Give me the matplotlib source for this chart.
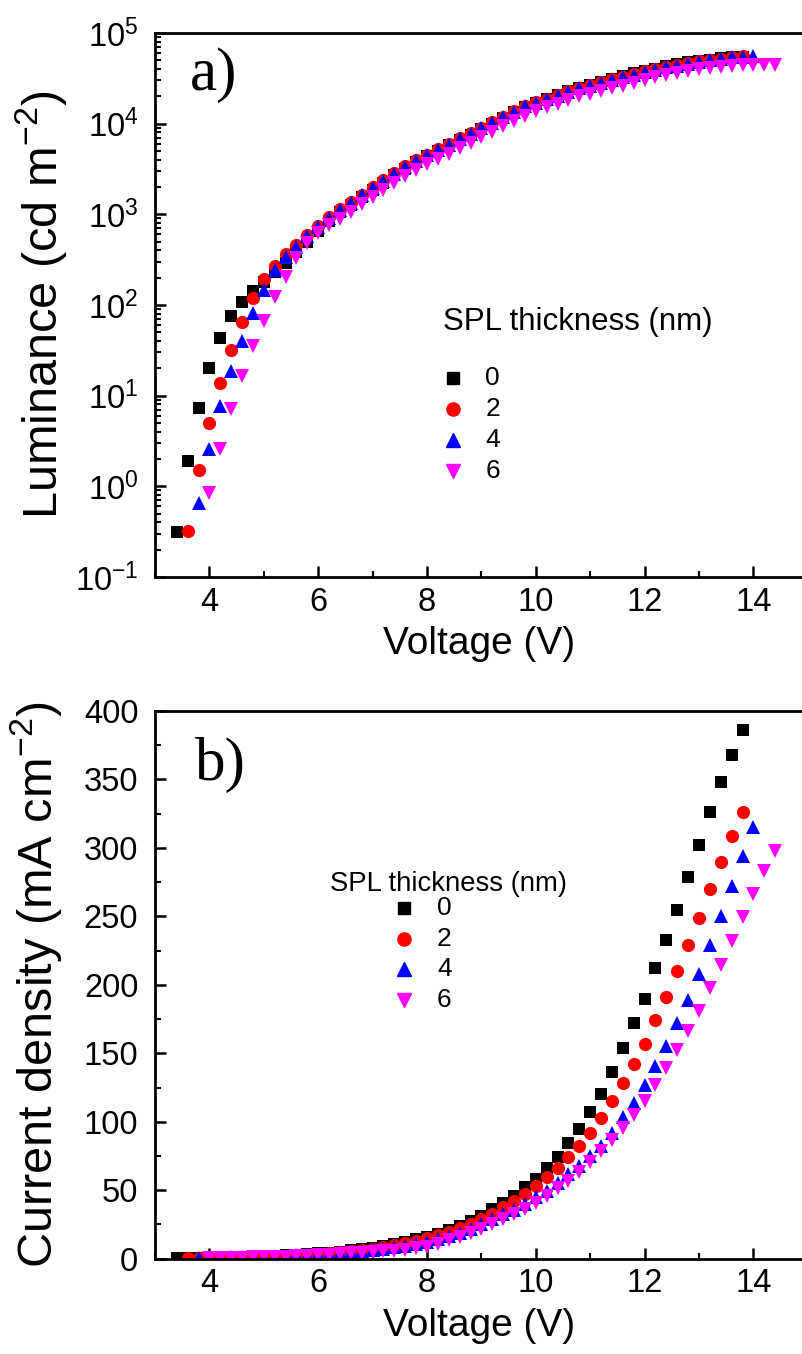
import numpy as np
import matplotlib
matplotlib.use("Agg")
import matplotlib.pyplot as plt
from matplotlib.ticker import MultipleLocator, LogLocator, NullFormatter

plt.rcParams['font.family'] = ['Liberation Sans', 'DejaVu Sans']
plt.rcParams['mathtext.default'] = 'regular'

# SPL thickness series (nm)
labels = ['0', '2', '4', '6']
colors = ['black', '#ff0000', '#0000ff', '#ff00ff']
markers = ['s', 'o', '^', 'v']
msizes = [8.5, 9.5, 10, 10]

# voltage sweep: first point of each series, 0.2 V step
v_start = [3.4, 3.6, 3.8, 4.0]
v_step = 0.2

# a) luminance (cd m-2)
lum_0 = [0.31, 1.9, 7.3, 20, 43, 76, 107, 141, 180, 230, 290, 380, 500, 650, 840,
         1050, 1280, 1550, 1860, 2240, 2700, 3200, 3760, 4370, 5010, 5750, 6610,
         7590, 8710, 10000, 11500, 13300, 15300, 17000, 18800, 20700, 22800, 25000,
         27000, 29000, 31200, 33500, 36000, 38500, 40500, 43000, 45200, 47300,
         49300, 51000, 52500, 54000, 55000]
lum_2 = [0.32, 1.5, 5.0, 13.8, 31.6, 65, 119, 195, 272, 365, 460, 590, 740, 930,
         1140, 1380, 1650, 1990, 2380, 2870, 3370, 3960, 4550, 5220, 6000, 6880,
         7900, 9070, 10400, 11900, 13700, 15700, 17300, 18900, 20800, 22800, 24900,
         26800, 28700, 30700, 33000, 35300, 37800, 39600, 42400, 44500, 46500,
         48700, 50900, 52200, 54500, 55800]
lum_4 = [0.66, 2.6, 7.6, 18.7, 40, 81, 147, 245, 340, 440, 570, 720, 912, 1120,
         1350, 1620, 1950, 2340, 2820, 3310, 3890, 4470, 5130, 5890, 6760, 7760,
         8910, 10200, 11700, 13500, 15500, 17000, 18600, 20400, 22400, 24500, 26300,
         28200, 30200, 32400, 34700, 37200, 38900, 41700, 43700, 45700, 47900,
         50100, 51300, 53700, 55000, 56200]
lum_6 = [0.85, 2.6, 7.1, 16.3, 35, 66, 123, 206, 330, 480, 617, 760, 890, 1070,
         1290, 1550, 1860, 2240, 2630, 3090, 3550, 4070, 4680, 5370, 6170, 7080,
         8130, 9330, 10700, 12300, 13800, 15100, 16600, 18200, 20000, 21400, 22900,
         24500, 26300, 28200, 30200, 32400, 34700, 36300, 38000, 39800, 41200,
         42700, 43700, 44200, 44700, 44700, 44400]

# b) current density (mA cm-2)
cur_0 = [0.5, 0.6, 0.7, 0.9, 1.0, 1.2, 1.4, 1.6, 1.9, 2.2, 2.5, 2.9, 3.4, 3.9,
         4.5, 5.2, 6.0, 7.0, 8.1, 9.3, 10.7, 12.3, 14.1, 16.1, 18.4, 21.0, 24.0,
         27.7, 31.5, 36.0, 41.0, 45.8, 52.0, 58.5, 66.0, 74.0, 84.5, 94.5, 107,
         120, 136, 154, 172, 190, 212, 233, 255, 279, 302, 326, 348, 368, 386]
cur_2 = [0.5, 0.6, 0.7, 0.8, 1.0, 1.2, 1.4, 1.6, 1.9, 2.2, 2.6, 3.0, 3.5, 4.0,
         4.7, 5.4, 6.3, 7.3, 8.4, 9.7, 11.2, 12.9, 14.8, 17.0, 19.5, 22.3, 25.5,
         29.0, 33.0, 37.4, 42.0, 47.0, 53.0, 59.5, 66.5, 74.0, 82.5, 92.0, 103,
         115.5, 128.5, 142, 157, 174, 191, 210, 229, 249, 270, 290, 309, 326]
cur_4 = [0.5, 0.6, 0.8, 1.0, 1.2, 1.4, 1.6, 1.8, 2.1, 2.4, 2.7, 3.1, 3.6, 4.1,
         4.7, 5.4, 6.2, 7.1, 8.2, 9.4, 10.8, 12.4, 14.2, 16.3, 18.8, 22.0, 25.3,
         29.0, 32.4, 35.6, 40.0, 44.8, 49.8, 55.6, 61.7, 68.0, 75.3, 82.6, 92.0,
         103.5, 113.5, 126.5, 140.5, 155.5, 172, 189, 208, 229, 250, 272, 294, 315]
cur_6 = [0.4, 0.5, 0.6, 0.8, 1.0, 1.2, 1.4, 1.6, 1.9, 2.2, 2.5, 2.9, 3.3, 3.8,
         4.3, 5.0, 5.3, 5.9, 6.5, 7.5, 8.9, 11.0, 13.4, 16.0, 19.0, 22.0, 25.5,
         28.8, 32.5, 36.5, 41.0, 46.0, 51.3, 56.8, 63.2, 70.5, 78.5, 86.5, 95.2,
         105, 115.5, 127, 139.5, 152.5, 166, 181, 197.5, 214.5, 232, 249.5, 266.5,
         283, 298]

lum = [lum_0, lum_2, lum_4, lum_6]
cur = [cur_0, cur_2, cur_4, cur_6]

W, H = 803, 1354
fig = plt.figure(figsize=(W / 100, H / 100), dpi=100)

x_max = 3 + (W - 155) / 54.4
ax_a = fig.add_axes([155 / W, 1 - 577 / H, 1 - 155 / W, (577 - 33) / H])
ax_b = fig.add_axes([155 / W, 1 - 1258.7 / H, 1 - 155 / W, (1258.7 - 711) / H])


def style_axes(ax):
    for side in ['left', 'bottom', 'top']:
        ax.spines[side].set_linewidth(2.0)
    ax.spines['right'].set_visible(False)
    ax.tick_params(which='both', direction='in', top=False, right=False,
                   labelsize=23.5)
    ax.tick_params(axis='x', pad=7)
    ax.tick_params(axis='y', pad=12)
    ax.tick_params(which='major', length=8, width=1.8)
    ax.tick_params(which='minor', length=4.5, width=1.5)
    ax.set_xlim(3, x_max)
    ax.xaxis.set_major_locator(MultipleLocator(2))
    ax.xaxis.set_minor_locator(MultipleLocator(1))
    ax.set_xlabel('Voltage (V)', fontsize=28, labelpad=6)


def draw_legend(ax, title_xy, title_size, mark_x, text_x, rows_y):
    ax.text(title_xy[0], title_xy[1], 'SPL thickness (nm)', transform=ax.transAxes,
            fontsize=title_size, ha='left', va='center')
    for lab, col, mk, ms, y in zip(labels, colors, markers, msizes, rows_y):
        ax.plot([mark_x], [y], linestyle='none', marker=mk, ms=ms, color=col,
                transform=ax.transAxes, clip_on=False)
        ax.text(text_x, y, lab, transform=ax.transAxes, fontsize=19,
                ha='left', va='center')


# panel a
for vals, v0, col, mk, ms in zip(lum, v_start, colors, markers, msizes):
    v = v0 + v_step * np.arange(len(vals))
    ax_a.plot(v, vals, linestyle='none', marker=mk, ms=ms, color=col, mew=0)
ax_a.set_yscale('log')
ax_a.set_ylim(0.1, 1e5)
style_axes(ax_a)
ax_a.yaxis.set_major_locator(LogLocator(base=10, numticks=10))
ax_a.yaxis.set_minor_locator(LogLocator(base=10, subs=np.arange(2, 10), numticks=10))
ax_a.yaxis.set_minor_formatter(NullFormatter())
ax_a.set_ylabel('Luminance (cd m$^{-2}$)', fontsize=35)
ax_a.yaxis.set_label_coords(-0.132, 0.5)
ax_a.text(0.054, 0.923, 'a)', transform=ax_a.transAxes, fontsize=44,
          family='Liberation Serif', ha='left', va='center')
draw_legend(ax_a, (0.444, 0.469), 22.5, 0.460, 0.51, [0.366, 0.309, 0.252, 0.195])

# panel b
for vals, v0, col, mk, ms in zip(cur, v_start, colors, markers, msizes):
    v = v0 + v_step * np.arange(len(vals))
    ax_b.plot(v, vals, linestyle='none', marker=mk, ms=ms, color=col, mew=0)
ax_b.set_ylim(0, 400)
style_axes(ax_b)
ax_b.yaxis.set_major_locator(MultipleLocator(50))
ax_b.yaxis.set_minor_locator(MultipleLocator(25))
ax_b.set_ylabel('Current density (mA cm$^{-2}$)', fontsize=35)
ax_b.yaxis.set_label_coords(-0.14, 0.5)
ax_b.text(0.062, 0.901, 'b)', transform=ax_b.transAxes, fontsize=44,
          family='Liberation Serif', ha='left', va='center')
draw_legend(ax_b, (0.270, 0.684), 19.8, 0.384, 0.435, [0.640, 0.584, 0.529, 0.472])

fig.savefig('out.png', dpi=100)
